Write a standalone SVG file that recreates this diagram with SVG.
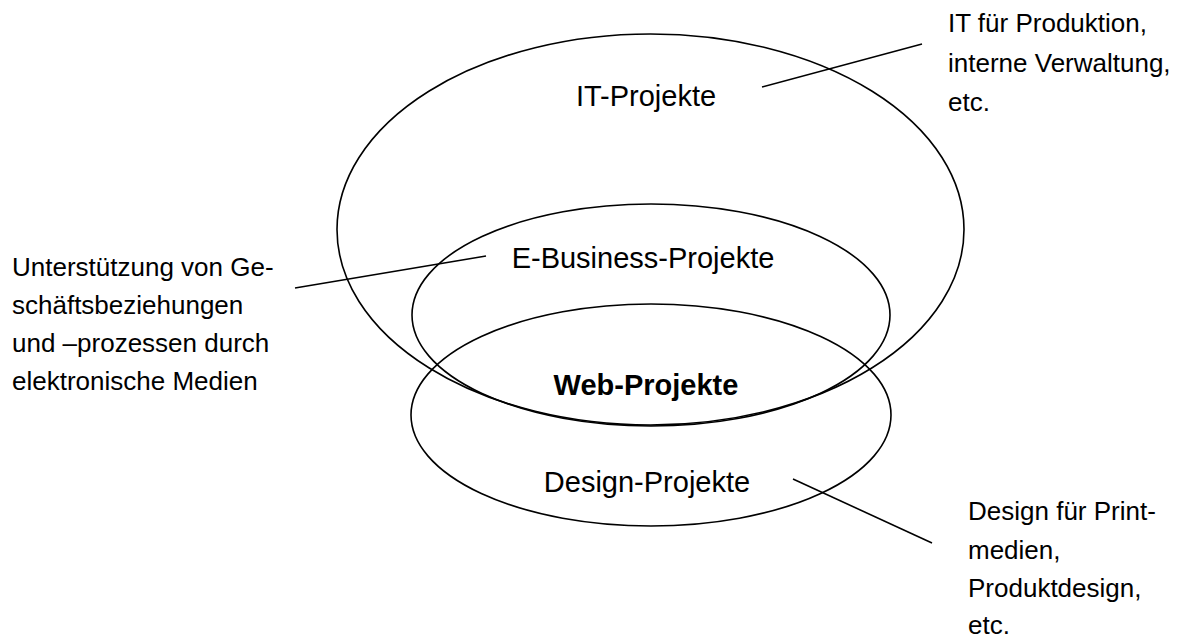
<svg xmlns="http://www.w3.org/2000/svg" width="1192" height="641" viewBox="0 0 1192 641">
<style>
.shape{fill:none;stroke:#000;stroke-width:1.6}
.main{font-family:"Liberation Sans",Arial,sans-serif;font-size:29px;fill:#000;text-anchor:middle}
.side{font-family:"Liberation Sans",Arial,sans-serif;font-size:26px;fill:#000}
.bold{font-weight:bold}
</style>
<rect width="1192" height="641" fill="#fff"/>
<g id="it-projekte">
<ellipse class="shape" cx="650.5" cy="229.5" rx="313.5" ry="195.5"/>
<text class="main" x="646" y="106">IT-Projekte</text>
</g>
<g id="e-business-projekte">
<ellipse class="shape" cx="651" cy="315" rx="239" ry="111"/>
<text class="main" x="643" y="268">E-Business-Projekte</text>
</g>
<g id="design-projekte">
<ellipse class="shape" cx="651" cy="415" rx="240" ry="111"/>
<text class="main" x="647" y="492">Design-Projekte</text>
</g>
<g id="web-projekte">
<text class="main bold" x="646" y="395">Web-Projekte</text>
</g>
<g id="connectors">
<line class="shape" x1="762" y1="87" x2="922" y2="44"/>
<line class="shape" x1="295" y1="288" x2="486" y2="256"/>
<line class="shape" x1="793" y1="479" x2="932" y2="543"/>
</g>
<g id="label-it">
<text class="side" x="948" y="32">IT für Produktion,</text>
<text class="side" x="948" y="72">interne Verwaltung,</text>
<text class="side" x="948" y="111">etc.</text>
</g>
<g id="label-ebusiness">
<text class="side" x="12" y="276">Unterstützung von Ge-</text>
<text class="side" x="12" y="314">schäftsbeziehungen</text>
<text class="side" x="12" y="352">und –prozessen durch</text>
<text class="side" x="12" y="390">elektronische Medien</text>
</g>
<g id="label-design">
<text class="side" x="968" y="520">Design für Print-</text>
<text class="side" x="968" y="559">medien,</text>
<text class="side" x="968" y="597">Produktdesign,</text>
<text class="side" x="968" y="634">etc.</text>
</g>
</svg>
